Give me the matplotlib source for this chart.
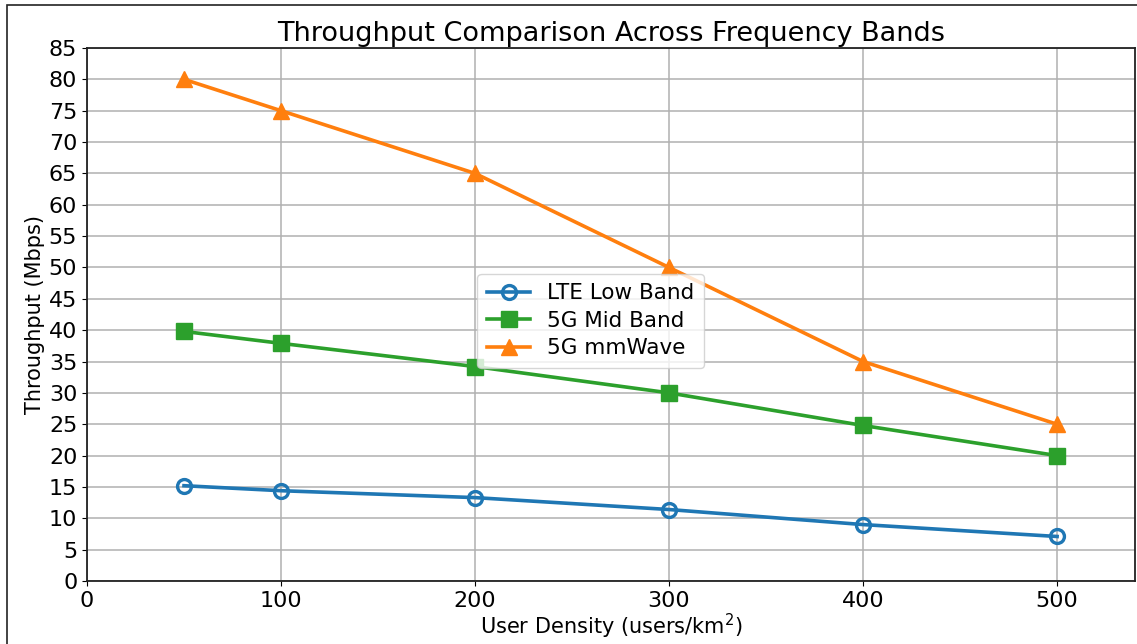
import matplotlib.pyplot as plt
from matplotlib.patches import Rectangle

# data
density = [50, 100, 200, 300, 400, 500]
lte_low = [15.2, 14.4, 13.3, 11.4, 9.0, 7.1]
mid_5g = [39.8, 37.9, 34.2, 30.0, 24.8, 20.0]
mmwave_5g = [80, 75, 65, 50, 35, 25]
xticks = [0, 100, 200, 300, 400, 500]
yticks = list(range(0, 90, 5))

fig = plt.figure(figsize=(11.37, 6.44), dpi=100)
ax = fig.add_axes([0.0765, 0.0978, 0.9215, 0.8277])

ax.plot(density, lte_low, color='#1f77b4', lw=2.6, marker='o', ms=10,
        mfc='none', mew=2.4, label='LTE Low Band')
ax.plot(density, mid_5g, color='#2ca02c', lw=2.6, marker='s', ms=11,
        label='5G Mid Band')
ax.plot(density, mmwave_5g, color='#ff7f0e', lw=2.6, marker='^', ms=12,
        label='5G mmWave')

ax.set_xlim(0, 540)
ax.set_ylim(0, 85)
ax.set_xticks(xticks)
ax.set_yticks(yticks)
ax.tick_params(labelsize=16, length=3.5)
ax.grid(True, color='#b0b0b0', lw=1.1)
for s in ax.spines.values():
    s.set_color('#222222')
    s.set_linewidth(1.3)

ax.set_title('Throughput Comparison Across Frequency Bands', fontsize=19.5, pad=5)
ax.set_xlabel('User Density (users/km$^2$)', fontsize=15, labelpad=1)
ax.set_ylabel('Throughput (Mbps)', fontsize=15, labelpad=3)
ax.legend(loc='center', bbox_to_anchor=(0.481, 0.488), fontsize=15.5,
          handlelength=2.0, borderpad=0.45, labelspacing=0.35, framealpha=0.8)

# screenshot frame around the figure
fig.patches.append(Rectangle((7 / 1137, -0.02), 1.1, 1 - 5 / 644 + 0.02,
                             transform=fig.transFigure, fill=False,
                             edgecolor='#222222', lw=1.2))

fig.savefig('out.png', dpi=100)
